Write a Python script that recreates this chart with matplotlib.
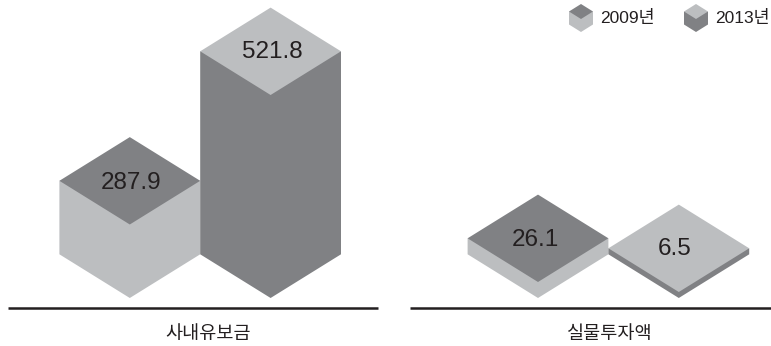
import matplotlib
matplotlib.use("Agg")
import matplotlib.pyplot as plt
from matplotlib.patches import Polygon

plt.rcParams['font.family'] = ['Liberation Sans', 'Noto Sans CJK KR', 'DejaVu Sans']

# data
categories = ['사내유보금', '실물투자액']
series_names = ['2009년', '2013년']
values_2009 = [287.9, 26.1]
values_2013 = [521.8, 6.5]
# the drawn heights are not proportional to the values in the original
heights_2009 = [73.5, 16]
heights_2013 = [203, 6]

DARK = '#808184'
LIGHT = '#bcbec0'
TEXT = '#231f20'

# layout, axes units are pixels with y going up from the bars' front corner
base_y = 298
half_w = 70.4
half_d = 43.7
group_x = [200.2, 608.4]
axis_spans = [(8, 378), (410, 771)]
label_x = [208.5, 610]
# value labels sit a little off the middle of the top face
nudge_2009 = [1.5, -2.5]
nudge_2013 = [1.5, -4]


def box(ax, cx, y0, h, hw, hd, top_color, side_color):
    # sides as one shape, the top diamond over it
    side = [(cx - hw, y0 + hd), (cx, y0), (cx + hw, y0 + hd),
            (cx + hw, y0 + hd + h), (cx - hw, y0 + hd + h)]
    top = [(cx - hw, y0 + hd + h), (cx, y0 + h), (cx + hw, y0 + hd + h),
           (cx, y0 + 2 * hd + h)]
    ax.add_patch(Polygon(side, closed=True, fc=side_color, ec='none'))
    ax.add_patch(Polygon(top, closed=True, fc=top_color, ec='none'))
    # centre of the top face
    return cx, y0 + hd + h


fig = plt.figure(figsize=(7.71, 3.46), dpi=100)
ax = fig.add_axes([0, 0, 1, 1])
ax.set_xlim(0, 771)
ax.set_ylim(base_y - 346, base_y)
ax.axis('off')

for i, gx in enumerate(group_x):
    # 2009 bar
    x, y = box(ax, gx - half_w, 0, heights_2009[i], half_w, half_d, DARK, LIGHT)
    ax.text(x + nudge_2009[i], y - 2, f'{values_2009[i]:.1f}', ha='center', va='center',
            fontsize=17.5, color=TEXT)
    # 2013 bar
    x, y = box(ax, gx + half_w, 0, heights_2013[i], half_w, half_d, LIGHT, DARK)
    ax.text(x + nudge_2013[i], y - 1, f'{values_2013[i]:.1f}', ha='center', va='center',
            fontsize=17.5, color=TEXT)

    # baseline and category
    ax.plot(axis_spans[i], [-10, -10], color=TEXT, lw=1.8, solid_capstyle='butt')
    ax.text(label_x[i], -36, categories[i], ha='center', va='center',
            fontsize=13.4, color=TEXT)

# legend
legend_x = [581, 696]
legend_colors = [(DARK, LIGHT), (LIGHT, DARK)]
for lx, name, (c_top, c_side) in zip(legend_x, series_names, legend_colors):
    box(ax, lx, base_y - 32, 13, 12, 7.5, c_top, c_side)
    ax.text(lx + 19, base_y - 18, name, ha='left', va='center', fontsize=12.5,
            color=TEXT)

fig.savefig('out.png', dpi=100)
